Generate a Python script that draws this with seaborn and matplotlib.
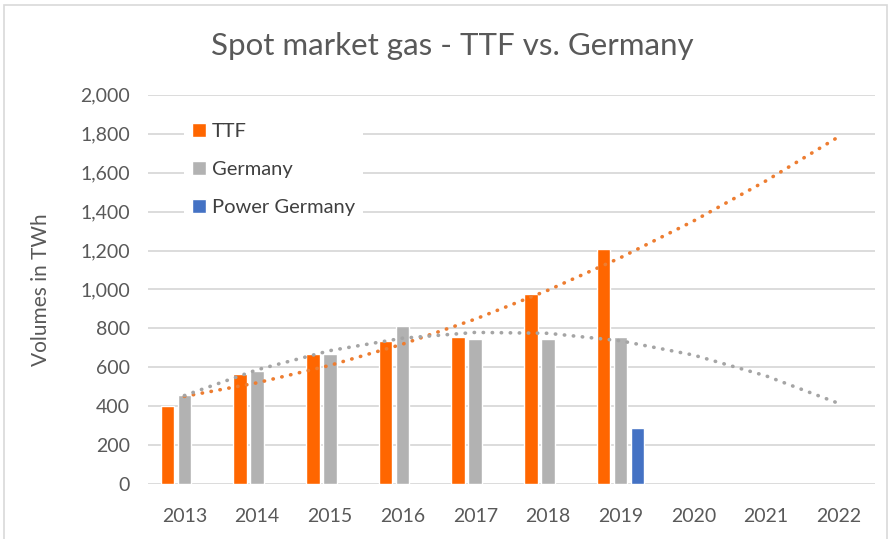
import numpy as np
import pandas as pd
import seaborn as sns
import matplotlib.pyplot as plt
from matplotlib.patches import Rectangle
from matplotlib.ticker import FuncFormatter

# spot market gas volumes, TWh
years = [2013, 2014, 2015, 2016, 2017, 2018, 2019, 2020, 2021, 2022]
ttf = [400, 565, 668, 735, 756, 975, 1207]
germany = [455, 582, 668, 812, 747, 747, 756]
power_germany = [None, None, None, None, None, None, 288]

series_names = ['TTF', 'Germany', 'Power Germany']
colors = ['#FF6600', '#B2B2B2', '#4472C4']

rows = []
for name, vals in zip(series_names, [ttf, germany, power_germany]):
    for yr, v in zip(years, vals):
        if v is not None:
            rows.append({'year': yr, 'series': name, 'value': v})
df = pd.DataFrame(rows)

sns.set_theme(style='white')
plt.rcParams['font.family'] = ['Lato', 'DejaVu Sans']

fig = plt.figure(figsize=(8.92, 5.39), dpi=100)
ax = fig.add_axes([0.166, 0.102, 0.815, 0.722])

sns.barplot(data=df, x='year', y='value', hue='series', order=years,
            hue_order=series_names, palette=colors, width=0.7, gap=0.2,
            saturation=1, ax=ax, zorder=2)

# excel style polynomial (order 2) trend lines, forecast to 2022
xs = np.arange(len(years))
for vals, c in [(ttf, '#ED7D31'), (germany, '#A5A5A5')]:
    coef = np.polyfit(np.arange(len(vals)), vals, 2)
    sns.lineplot(x=xs, y=np.polyval(coef, xs), color=c, lw=2.6,
                 linestyle=(0, (0.1, 2.4)), dash_capstyle='round',
                 legend=False, ax=ax, zorder=3)

ax.set_xlim(-0.5, len(years) - 0.5)
ax.set_ylim(0, 2000)
ax.set_yticks(range(0, 2001, 200))
ax.yaxis.set_major_formatter(FuncFormatter(lambda v, p: f'{int(v):,}'))
ax.grid(axis='y', color='#D9D9D9', lw=1.3, zorder=0)
ax.set_axisbelow(True)
sns.despine(ax=ax, left=True, right=True, top=True, bottom=True)
ax.tick_params(axis='both', length=0, labelsize=14, labelcolor='#595959')
ax.tick_params(axis='x', pad=17)
ax.tick_params(axis='y', pad=13)
ax.set_xlabel('')
ax.set_ylabel('Volumes in TWh', fontsize=15, color='#595959', labelpad=21)

handles, labels = ax.get_legend_handles_labels()
leg = ax.legend(handles, labels, loc='upper left', bbox_to_anchor=(0.035, 0.975),
                frameon=True, framealpha=1, edgecolor='white', fontsize=14.5,
                labelspacing=1.05, handlelength=0.7, handleheight=0.7,
                handletextpad=0.3, borderpad=0.4, labelcolor='#404040')
leg.get_frame().set_linewidth(0)

fig.suptitle('Spot market gas - TTF vs. Germany', x=0.507, y=0.94,
             fontsize=22.5, color='#595959', fontweight='normal')
fig.patches.append(Rectangle((0.004, -0.01), 0.99, 1.0, transform=fig.transFigure,
                             fill=False, edgecolor='#D9D9D9', lw=1.2))

fig.savefig('out.png', dpi=100, facecolor='white')
